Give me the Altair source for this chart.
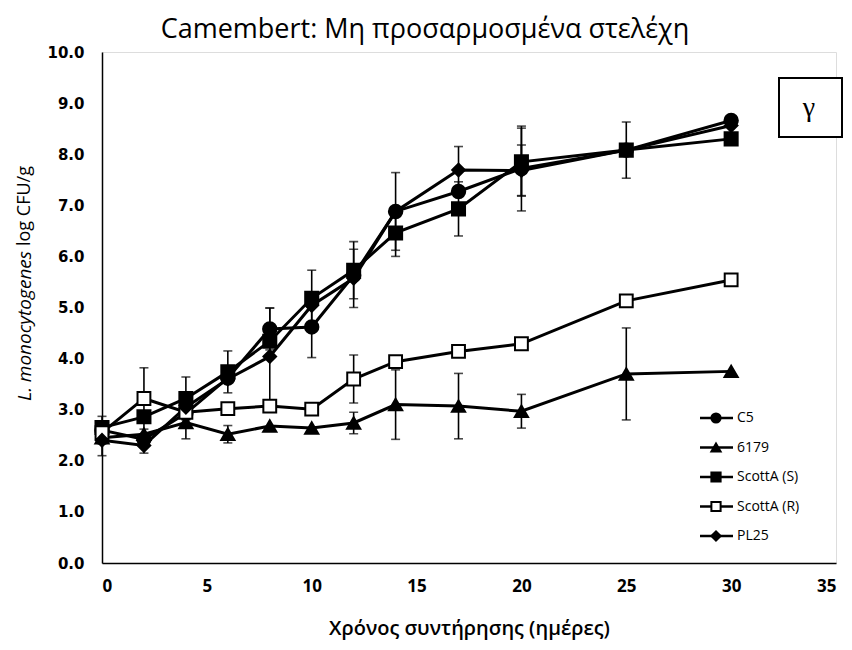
import altair as alt
import pandas as pd

days = [0, 2, 4, 6, 8, 10, 12, 14, 17, 20, 25, 30]
series_names = ["C5", "6179", "ScottA (S)", "ScottA (R)", "PL25"]

c5 = [2.60, 2.42, 2.93, 3.62, 4.58, 4.62, 5.63, 6.88, 7.27, 7.72, 8.08, 8.66]
s6179 = [2.45, 2.52, 2.75, 2.52, 2.68, 2.64, 2.74, 3.10, 3.07, 2.97, 3.70, 3.75]
scotta_s = [2.65, 2.86, 3.22, 3.74, 4.34, 5.18, 5.73, 6.46, 6.93, 7.85, 8.08, 8.30]
scotta_r = [2.55, 3.22, 2.95, 3.02, 3.07, 3.01, 3.60, 3.94, 4.14, 4.29, 5.13, 5.54]
pl25 = [2.40, 2.30, 3.05, 3.60, 4.04, 5.04, 5.57, 6.88, 7.69, 7.68, 8.08, 8.56]

c5_err = [0.27, 0, 0, 0, 0.41, 0.60, 0, 0.76, 0, 0.83, 0, 0]
s6179_err = [0, 0, 0.32, 0.17, 0, 0, 0.21, 0.68, 0.64, 0.33, 0.90, 0]
scotta_s_err = [0, 0, 0.42, 0.41, 0, 0.55, 0.56, 0.46, 0.53, 0.66, 0, 0]
scotta_r_err = [0, 0.60, 0, 0, 0, 0, 0.47, 0, 0, 0, 0, 0]
pl25_err = [0.30, 0.15, 0, 0, 0.95, 0, 0.57, 0, 0.46, 0.50, 0.55, 0]

values = [c5, s6179, scotta_s, scotta_r, pl25]
errors = [c5_err, s6179_err, scotta_s_err, scotta_r_err, pl25_err]

rows = []
for name, vals, errs in zip(series_names, values, errors):
    for d, v, e in zip(days, vals, errs):
        rows.append({"series": name, "day": d, "value": v, "err": e,
                     "lo": v - e, "hi": v + e})
df = pd.DataFrame(rows)
df_err = df[df["err"] > 0]

shape_scale = alt.Scale(domain=series_names,
                        range=["circle", "triangle-up", "square", "square", "diamond"])
fill_scale = alt.Scale(domain=series_names,
                       range=["black", "black", "black", "white", "black"])

x_scale = alt.Scale(domain=[0, 35], nice=False)
x_axis = alt.Axis(values=[0, 5, 10, 15, 20, 25, 30, 35], grid=False, ticks=False,
                  domainColor="black", domainWidth=1.5,
                  labelFont="Open Sans", labelFontWeight="bold", labelFontSize=17,
                  labelColor="black", labelPadding=15,
                  title="Χρόνος συντήρησης (ημέρες)", titleFont="Open Sans",
                  titleFontWeight=600, titleFontSize=20, titleColor="black",
                  titlePadding=24)
y_scale = alt.Scale(domain=[0, 10], nice=False)
y_axis = alt.Axis(values=list(range(0, 11)), format=".1f", grid=False, ticks=False,
                  domainColor="black", domainWidth=1.5,
                  labelFont="DejaVu Sans", labelFontWeight="bold", labelFontSize=15,
                  labelColor="black", labelPadding=18, title=None)


def X(field="day"):
    return alt.X(f"{field}:Q", scale=x_scale, axis=x_axis, title="Χρόνος συντήρησης (ημέρες)")


def Y(field):
    return alt.Y(f"{field}:Q", scale=y_scale, axis=y_axis, title=None)


lines = alt.Chart(df).mark_line(color="black", strokeWidth=3).encode(
    x=X(), y=Y("value"), detail="series:N")
err_rule = alt.Chart(df_err).mark_rule(color="black", strokeWidth=1.6).encode(
    x=X(), y=Y("lo"), y2="hi:Q")
cap_hi = alt.Chart(df_err).mark_tick(color="black", orient="horizontal", size=9,
                                     thickness=1.6).encode(x=X(), y=Y("hi"))
cap_lo = alt.Chart(df_err).mark_tick(color="black", orient="horizontal", size=9,
                                     thickness=1.6).encode(x=X(), y=Y("lo"))
points = alt.Chart(df).mark_point(filled=True, stroke="black", strokeWidth=2, opacity=1).encode(
    x=X(), y=Y("value"),
    shape=alt.Shape("series:N", scale=shape_scale, legend=None),
    fill=alt.Fill("series:N", scale=fill_scale, legend=None),
    size=alt.Size("series:N", scale=alt.Scale(domain=series_names,
                                               range=[180, 160, 150, 110, 150]), legend=None),
)

main = alt.layer(lines, err_rule, cap_hi, cap_lo, points)

# legend drawn inside plot area
leg_df = pd.DataFrame({"series": series_names})
leg_y = alt.Y("series:N", scale=alt.Scale(type="point", domain=series_names,
                                          range=[366, 484], padding=0), axis=None)
leg_rule = alt.Chart(leg_df).mark_rule(color="black", strokeWidth=2.5).encode(
    x=alt.value(598), x2=alt.value(631), y=leg_y)
leg_pt = alt.Chart(leg_df).mark_point(filled=True, stroke="black", strokeWidth=2, opacity=1).encode(
    x=alt.value(614), y=leg_y,
    shape=alt.Shape("series:N", scale=shape_scale, legend=None),
    fill=alt.Fill("series:N", scale=fill_scale, legend=None),
    size=alt.value(85),
)
leg_txt = alt.Chart(leg_df).mark_text(align="left", baseline="middle", font="Open Sans",
                                      fontSize=14, color="black").encode(
    x=alt.value(635), y=leg_y, text="series:N")
legend = alt.layer(leg_rule, leg_pt, leg_txt)

# y-axis title with italic species name
ytitle_df = pd.DataFrame({"a": ["L. monocytogenes"], "b": ["log CFU/g"]})
yt1 = alt.Chart(ytitle_df).mark_text(angle=270, align="right", baseline="middle",
                                     font="Open Sans", fontStyle="italic", fontSize=19,
                                     color="black").encode(
    x=alt.value(-77), y=alt.value(199), text="a:N")
yt2 = alt.Chart(ytitle_df).mark_text(angle=270, align="left", baseline="middle",
                                     font="Open Sans", fontSize=18, color="black").encode(
    x=alt.value(-77), y=alt.value(194), text="b:N")

# panel label box
box_df = pd.DataFrame({"lab": ["γ"]})
box = alt.Chart(box_df).mark_rect(fill="white", stroke="black", strokeWidth=2).encode(
    x=alt.value(677), x2=alt.value(740), y=alt.value(26), y2=alt.value(85))
box_txt = alt.Chart(box_df).mark_text(font="Liberation Serif", fontSize=28, color="black",
                                      baseline="middle", align="center").encode(
    x=alt.value(707), y=alt.value(56), text="lab:N")

chart = alt.layer(main, legend, yt1, yt2, box, box_txt).resolve_scale(
    y="independent"
).properties(
    width=734,
    height=511,
    autosize="none",
    padding={"left": 102, "top": 52, "right": 16, "bottom": 87},
    title=alt.Title("Camembert: Μη προσαρμοσμένα στελέχη", font="Open Sans",
                    fontSize=27, fontWeight="normal", color="black",
                    anchor="middle", dx=-44, offset=1),
).configure_view(strokeWidth=0, stroke="transparent").configure(background="white")

chart.save("out.html", embed_options={"renderer": "svg", "actions": False})
